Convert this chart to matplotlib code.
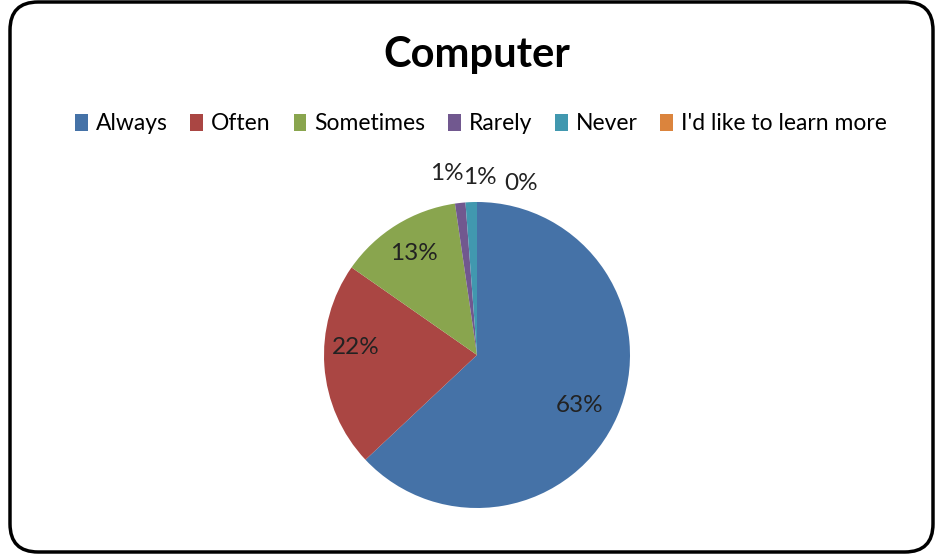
import matplotlib
matplotlib.use("Agg")
import matplotlib.pyplot as plt
from matplotlib.patches import FancyBboxPatch, Patch

plt.rcParams['font.family'] = ['Lato', 'DejaVu Sans']

categories = ["Always", "Often", "Sometimes", "Rarely", "Never", "I'd like to learn more"]
values = [63.0, 21.7, 13.0, 1.1, 1.2, 0.0]
pct_labels = ["63%", "22%", "13%", "1%", "1%", "0%"]
colors = ["#4572A7", "#AA4643", "#89A54E", "#71588F", "#4198AF", "#DB843D"]

W, H = 937, 556
fig = plt.figure(figsize=(W / 100, H / 100), dpi=100)

box = FancyBboxPatch((10 / W, 4 / H), (W - 14) / W, (H - 6) / H,
                     boxstyle="round,pad=0,rounding_size=0.03",
                     transform=fig.transFigure, facecolor="white",
                     edgecolor="black", linewidth=2.5, zorder=-1,
                     mutation_aspect=W / H)
fig.patches.append(box)

cx, cy, r = 477, 355, 153
ax = fig.add_axes([(cx - r) / W, (H - cy - r) / H, 2 * r / W, 2 * r / H])

wedges, _ = ax.pie(values, colors=colors, startangle=90, counterclock=False,
                   radius=1, wedgeprops=dict(linewidth=0))
ax.set_xlim(-1, 1)
ax.set_ylim(-1, 1)
ax.axis("off")

fs = 17.5
# inside labels
inside_pos = [(103 / r, -50 / r), (-121 / r, 7 / r), (-63 / r, 101 / r)]
for (x, y), t in zip(inside_pos, pct_labels[:3]):
    ax.text(x, y, t, ha="center", va="center", fontsize=fs, color="#222222")
# outside labels for small slices
outside_pos = [(-30 / r, 182 / r), (3 / r, 177 / r), (44 / r, 172 / r)]
for (x, y), t in zip(outside_pos, pct_labels[3:]):
    ax.text(x, y, t, ha="center", va="center", fontsize=fs, color="#222222",
            clip_on=False)

fig.text(477 / W, 1 - 55 / H, "Computer", ha="center", va="center",
         fontsize=30, fontweight="bold")

handles = [Patch(facecolor=c, edgecolor="none") for c in colors]
fig.legend(handles, categories, loc="center", bbox_to_anchor=(481 / W, 1 - 124 / H),
           ncol=6, frameon=False, fontsize=16.5, handlelength=0.55, handleheight=0.8,
           handletextpad=0.35, columnspacing=1.0)

fig.savefig("out.png", dpi=100)
